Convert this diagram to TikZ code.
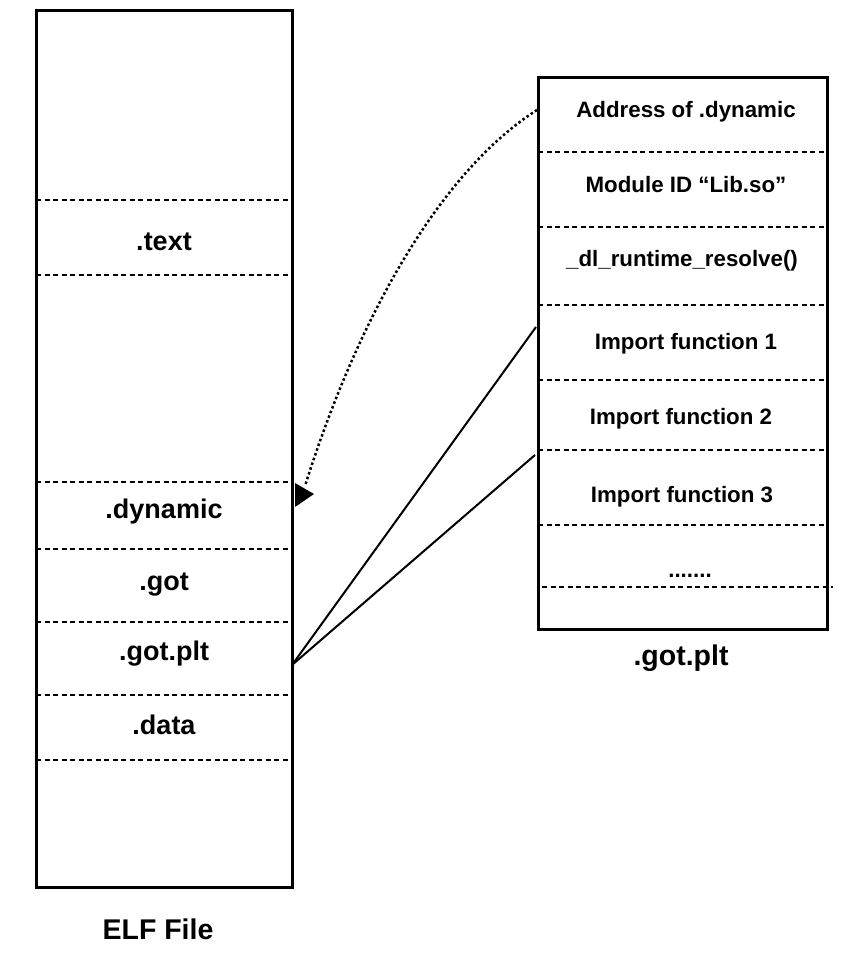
\documentclass[tikz,border=0pt]{standalone}
\usepackage{fontspec}
\setmainfont{Liberation Sans}
\usetikzlibrary{positioning, calc}

\begin{document}
\begin{tikzpicture}[
    x=1pt, y=-1pt,
    memblock/.style={draw, line width=3pt},
    divider/.style={line width=2pt, dash pattern=on 5pt off 3.5pt},
    elflabel/.style={anchor=base, font=\bfseries\fontsize{27}{32}\selectfont},
    gotlabel/.style={anchor=base, font=\bfseries\fontsize{22.3}{27}\selectfont},
    boxtitle/.style={anchor=base, font=\bfseries\fontsize{28.5}{34}\selectfont},
    link/.style={line width=2pt},
    backref/.style={line width=2.5pt, dash pattern=on 2.5pt off 2.5pt}
]
\useasboundingbox (0,0) rectangle (858,960);

% ELF file
\draw[memblock] (36,11) rectangle (292,887);
\foreach \y in {200,275,482,549,622,695,760}
    \draw[divider] (36,\y) -- (292,\y);
\node[elflabel] (text) at (164,250) {.text};
\node[elflabel] (dynamic) at (164,518) {.dynamic};
\node[elflabel] (got) at (164,590) {.got};
\node[elflabel] (gotplt) at (164,660) {.got.plt};
\node[elflabel] (data) at (164,734) {.data};
\node[boxtitle] (elf) at (158,939) {ELF File};

% .got.plt table
\draw[memblock] (538,78) rectangle (827,629);
\foreach \y in {152,227,305,380,450,525}
    \draw[divider] (538,\y) -- (827,\y);
\draw[divider] (542,587) -- (833,587);
\node[gotlabel] (addr) at (686,118) {Address of .dynamic};
\node[gotlabel] (modid) at (686,193) {Module ID “Lib.so”};
\node[gotlabel] (resolve) at (682,266) {\_dl\_runtime\_resolve()};
\node[gotlabel] (imp1) at (686,349) {Import function 1};
\node[gotlabel] (imp2) at (681,424) {Import function 2};
\node[gotlabel] (imp3) at (682,502) {Import function 3};
\node[gotlabel] (more) at (690,577) {.......};
\node[boxtitle] (pltname) at (681,665) {.got.plt};

% connectors
\coordinate (elfplt) at (292,665);
\coordinate (fn1) at (536,327);
\coordinate (fn3) at (535,455);
\coordinate (dynsrc) at (537,110);
\coordinate (dyntip) at (305,486);

\draw[link] (elfplt) -- (fn1);
\draw[link] (elfplt) -- (fn3);
\draw[backref] (dynsrc) .. controls (446,168) and (362,305) .. (dyntip);
\fill (295,483) -- (295,507) -- (314,494) -- cycle;

\end{tikzpicture}
\end{document}
